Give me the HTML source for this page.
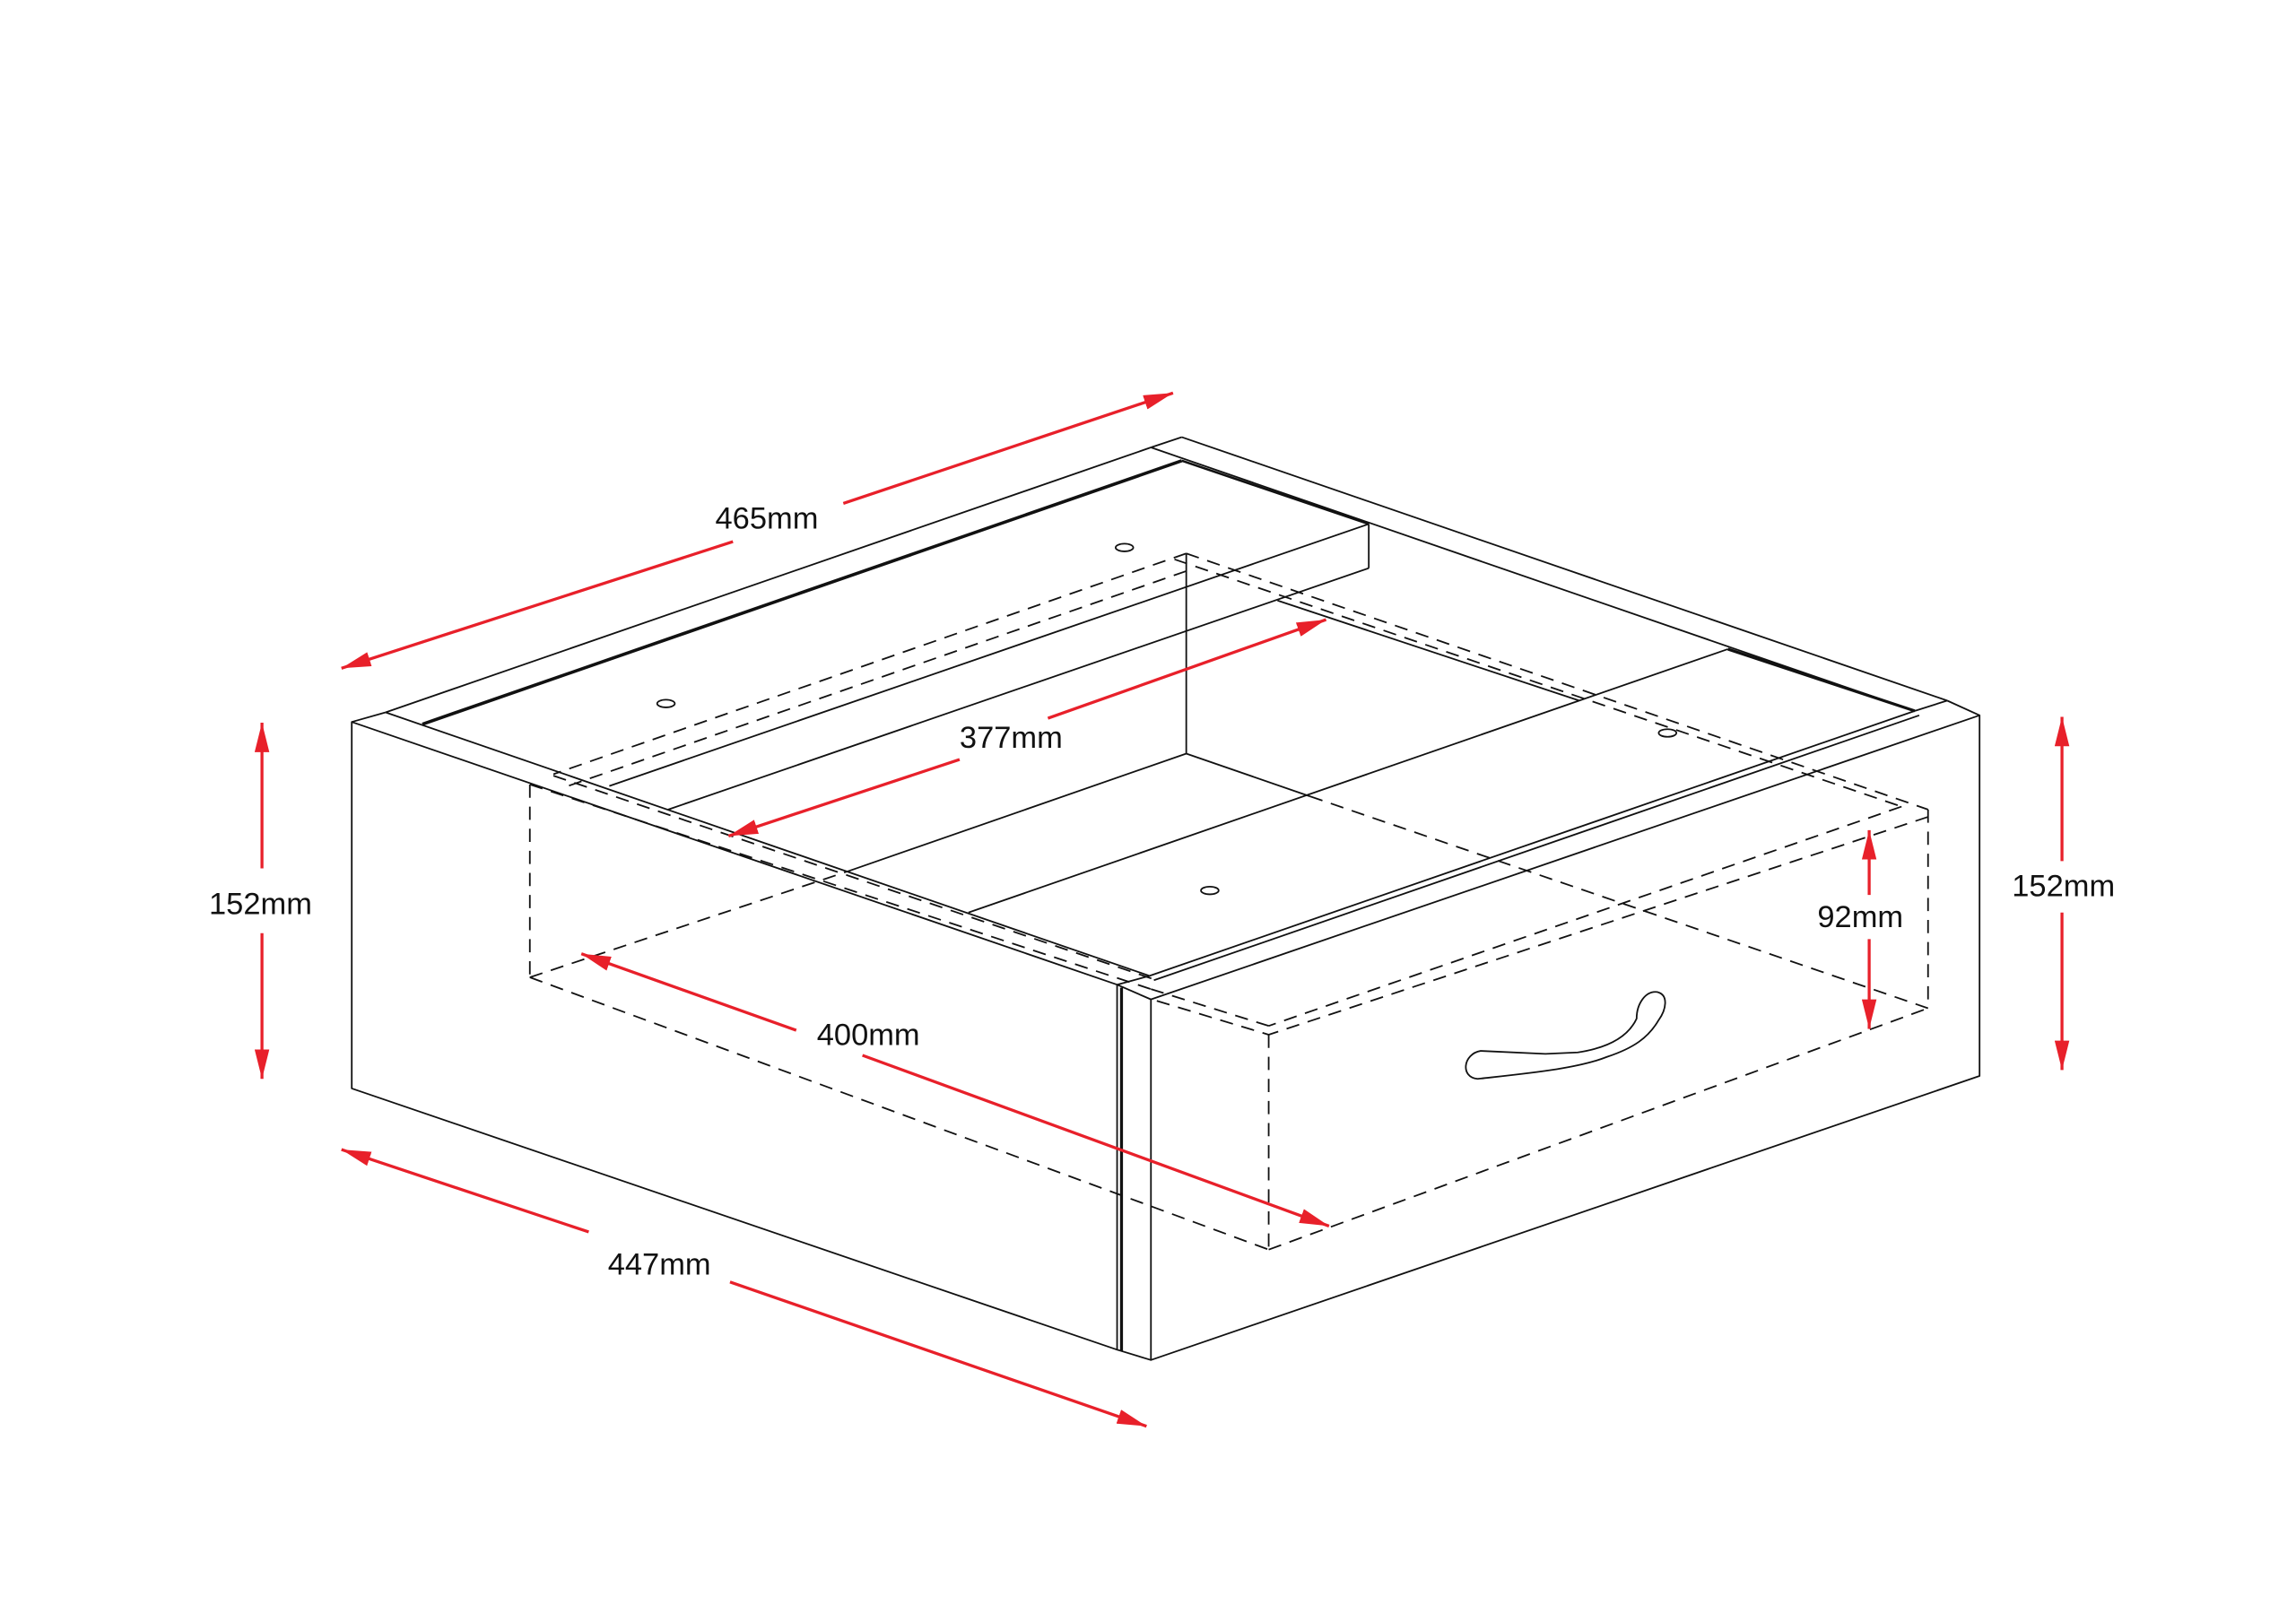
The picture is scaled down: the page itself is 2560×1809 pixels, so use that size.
<!DOCTYPE html>
<html><head><meta charset="utf-8"><style>
html,body{margin:0;padding:0;background:#fff;}
svg{display:block;}
text{font-family:"Liberation Sans",Arial,sans-serif;font-size:21px;fill:#111;}
</style></head><body>
<svg width="2560" height="1809" viewBox="0 0 1560 1102" preserveAspectRatio="none" xmlns="http://www.w3.org/2000/svg">
<defs>
<marker id="ah" viewBox="0 0 20 10" refX="20" refY="5" markerWidth="20" markerHeight="10" markerUnits="userSpaceOnUse" orient="auto-start-reverse">
<path d="M0,0 L20,5 L0,10 Z" fill="#e8202a"/>
</marker>
</defs>
<g fill="none" stroke="#111" stroke-width="1.1" stroke-linejoin="round">
<polygon points="239,490.5 759,669 759,917 239,739.5" fill="#fff"/>
<line x1="762" y1="671" x2="762" y2="918" stroke-width="2"/>
<polygon points="782,679 1345,486 1345,731 782,924" fill="#fff"/>
<line x1="759" y1="917" x2="782" y2="924"/>
<line x1="759" y1="669" x2="782" y2="679"/>
<line x1="239" y1="490.5" x2="262" y2="484"/>
<line x1="262" y1="484" x2="782" y2="304"/>
<line x1="782" y1="304" x2="803" y2="297"/>
<line x1="803" y1="297" x2="1323" y2="476"/>
<line x1="1323" y1="476" x2="1345" y2="486"/>
<line x1="782" y1="304" x2="1301" y2="483"/>
<line x1="1301" y1="483" x2="1323" y2="476"/>
<line x1="262" y1="484" x2="781" y2="663"/>
<line x1="781" y1="663" x2="759" y2="669"/>
<line x1="781" y1="663" x2="1301" y2="483"/>
<line x1="784" y1="666" x2="1304" y2="486"/>
<line x1="287" y1="492" x2="803" y2="313" stroke-width="2.2"/>
<line x1="803" y1="313" x2="930" y2="356" stroke-width="1.6"/>
<line x1="1174" y1="441" x2="1301" y2="483" stroke-width="2"/>
<line x1="930" y1="356" x2="930" y2="386"/>
<line x1="930" y1="356" x2="414" y2="534"/>
<line x1="930" y1="386" x2="454" y2="550"/>
<line x1="868" y1="408" x2="1073" y2="476"/>
<line x1="1073" y1="476" x2="1174" y2="441"/>
<line x1="658" y1="620" x2="1073" y2="476"/>
<line x1="806" y1="376" x2="806" y2="512"/>
<line x1="576" y1="592" x2="806" y2="512"/>
<line x1="806" y1="512" x2="890" y2="541"/>
<ellipse cx="452.5" cy="478" rx="6" ry="2.6"/>
<ellipse cx="764" cy="372" rx="6" ry="2.6"/>
<ellipse cx="1133" cy="498" rx="6" ry="2.6"/>
<ellipse cx="822" cy="605" rx="6" ry="2.6"/>
<path d="M1004,733 C992,732 994,716 1006,714 L1050,716 L1072,715 C1092,712 1106,705 1112,692 C1112,682 1118,673 1126,674 C1134,676 1132,686 1127,693 C1120,705 1110,712 1092,718 C1072,726 1040,729 1004,733 Z"/>
</g>
<g fill="none" stroke="#111" stroke-width="1.1" stroke-dasharray="9,6">
<line x1="360" y1="533" x2="360" y2="664"/>
<line x1="360" y1="664" x2="576" y2="592"/>
<line x1="360" y1="664" x2="862" y2="849"/>
<line x1="862" y1="849" x2="1310" y2="685"/>
<line x1="1310" y1="550" x2="1310" y2="685"/>
<line x1="862" y1="703" x2="862" y2="849"/>
<line x1="890" y1="541" x2="1310" y2="685"/>
<line x1="806" y1="376" x2="1310" y2="550"/>
<line x1="798" y1="380" x2="1292" y2="548"/>
<line x1="806" y1="376" x2="376" y2="526"/>
<line x1="806" y1="388" x2="386" y2="534"/>
<line x1="360" y1="533" x2="782" y2="672"/>
<line x1="376" y1="527" x2="786" y2="666"/>
<line x1="1292" y1="548" x2="862" y2="697"/>
<line x1="1310" y1="555" x2="862" y2="703"/>
<line x1="782" y1="672" x2="862" y2="697"/>
<line x1="786" y1="680" x2="862" y2="703"/>
</g>
<g stroke="#e8202a" stroke-width="2" fill="none">
<line x1="498" y1="368" x2="232" y2="454" marker-end="url(#ah)"/>
<line x1="573" y1="342" x2="797" y2="267" marker-end="url(#ah)"/>
<line x1="652" y1="516" x2="495" y2="568" marker-end="url(#ah)"/>
<line x1="712" y1="488" x2="901" y2="421" marker-end="url(#ah)"/>
<line x1="541" y1="700" x2="395" y2="648" marker-end="url(#ah)"/>
<line x1="586" y1="717" x2="903" y2="833" marker-end="url(#ah)"/>
<line x1="400" y1="837" x2="232" y2="781" marker-end="url(#ah)"/>
<line x1="496" y1="871" x2="779" y2="969" marker-end="url(#ah)"/>
<line x1="178" y1="590" x2="178" y2="491" marker-end="url(#ah)"/>
<line x1="178" y1="634" x2="178" y2="733" marker-end="url(#ah)"/>
<line x1="1401" y1="585" x2="1401" y2="487" marker-end="url(#ah)"/>
<line x1="1401" y1="620" x2="1401" y2="727" marker-end="url(#ah)"/>
<line x1="1270" y1="608" x2="1270" y2="564" marker-end="url(#ah)"/>
<line x1="1270" y1="638" x2="1270" y2="699" marker-end="url(#ah)"/>
</g>
<g text-anchor="middle">
<text x="521" y="359">465mm</text>
<text x="687" y="508">377mm</text>
<text x="590" y="710">400mm</text>
<text x="448" y="866">447mm</text>
<text x="177" y="621">152mm</text>
<text x="1402" y="609">152mm</text>
<text x="1264" y="630">92mm</text>
</g>
</svg>
</body></html>
